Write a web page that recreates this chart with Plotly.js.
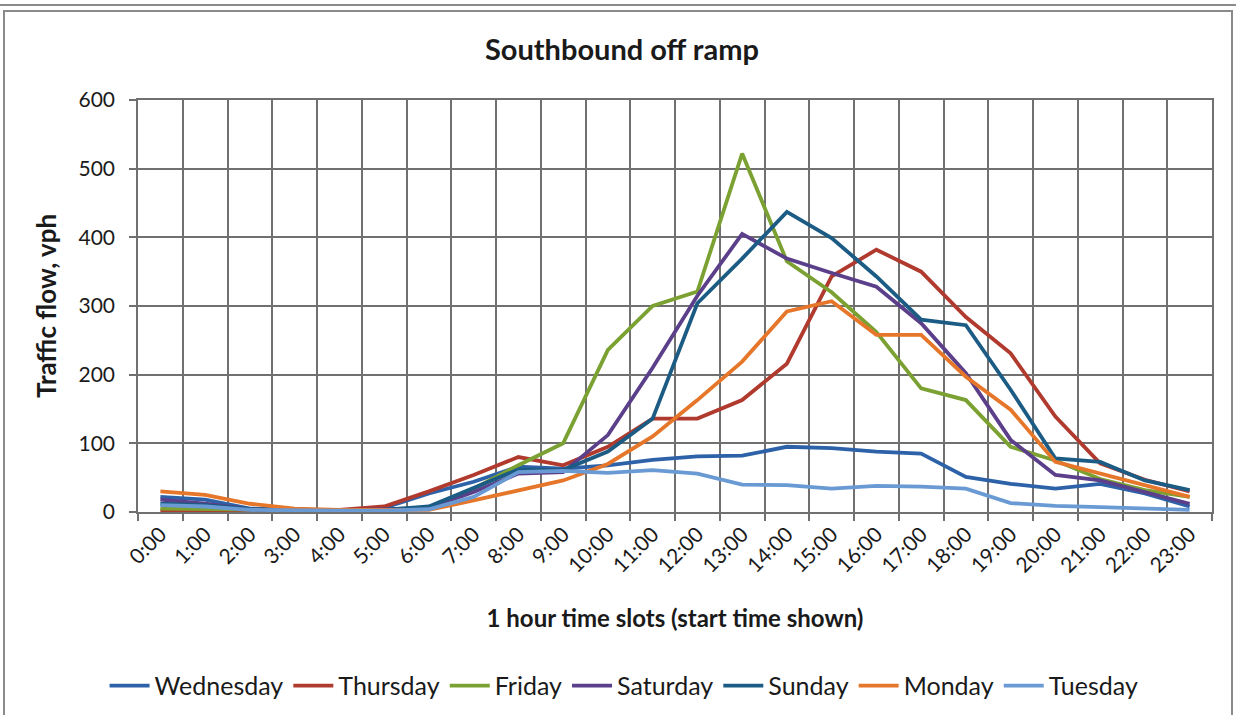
<!DOCTYPE html>
<html>
<head>
<meta charset="utf-8">
<script src="https://cdn.plot.ly/plotly-3.0.1.min.js"></script>
<style>
  html, body { margin: 0; padding: 0; background: #fff; }
  #chart { position: absolute; left: 0; top: 0; width: 1236px; height: 715px; }
  .frame { position: absolute; pointer-events: none; }
</style>
</head>
<body>
<div id="chart"></div>
<div class="frame" style="left:0; top:4px; width:1236px; height:0; border-top:2px solid #8a8a8a;"></div>
<div class="frame" style="left:3px; top:10px; width:1226px; height:720px; border:2px solid #8a8a8a; border-bottom:none;"></div>
<script>
const hours = ["0:00","1:00","2:00","3:00","4:00","5:00","6:00","7:00","8:00","9:00","10:00","11:00",
               "12:00","13:00","14:00","15:00","16:00","17:00","18:00","19:00","20:00","21:00","22:00","23:00"];

const wednesday = [22,18,5,3,2,6,27,44,66,63,68,76,81,82,95,93,88,85,51,41,34,41,27,8];
const thursday  = [2,2,2,2,3,8,30,54,80,68,95,136,136,163,216,343,382,350,284,231,139,71,47,30];
const friday    = [5,4,3,2,2,3,6,34,68,100,236,300,321,522,365,320,262,180,163,95,75,48,32,22];
const saturday  = [18,12,4,2,2,4,6,29,56,58,112,210,315,405,369,348,328,275,202,105,54,46,29,12];
const sunday    = [12,10,4,2,2,3,8,35,62,61,88,136,304,369,437,399,343,280,272,178,78,73,46,32];
const monday    = [30,25,12,5,3,3,3,17,32,46,70,110,163,219,292,307,258,258,197,149,73,56,39,22];
const tuesday   = [10,8,3,2,2,2,4,22,58,60,57,61,56,40,39,34,38,37,34,13,9,7,5,3];

const seriesNames = ["Wednesday","Thursday","Friday","Saturday","Sunday","Monday","Tuesday"];
const seriesValues = [wednesday, thursday, friday, saturday, sunday, monday, tuesday];
const seriesColors = ["#2E62A8","#B03A2E","#7AA131","#5B3F8A","#1C5C84","#E5762A","#6A9AD3"];

const FONT = "Lato, 'Open Sans', 'DejaVu Sans', sans-serif";

const traces = seriesNames.map((name, k) => ({
  type: "scatter",
  mode: "lines",
  name: name,
  x: hours,
  y: seriesValues[k],
  line: { color: seriesColors[k], width: 3.8 }
}));

const layout = {
  width: 1236,
  height: 715,
  margin: { l: 138, r: 24, t: 100, b: 203 },
  paper_bgcolor: "#ffffff",
  plot_bgcolor: "#ffffff",
  font: { family: FONT, color: "#1a1a1a", size: 21 },
  title: {
    text: "<b>Southbound off ramp</b>",
    x: 0.4506, xanchor: "center", xref: "paper",
    y: 52, yref: "container", yanchor: "middle",
    font: { family: FONT, size: 29, color: "#1a1a1a" }
  },
  showlegend: true,
  legend: {
    orientation: "h",
    xref: "container", yref: "container",
    x: 0.5049, xanchor: "center",
    y: 0.0406, yanchor: "middle",
    font: { family: FONT, size: 25, color: "#1a1a1a" },
    itemwidth: 40,
    tracegroupgap: 0
  },
  xaxis: {
    type: "category",
    range: [-0.5, 23.5],
    automargin: false,
    tickson: "boundaries",
    ticks: "outside",
    ticklen: 7,
    tickcolor: "#707070",
    tickwidth: 1.5,
    tickangle: -45,
    tickfont: { family: FONT, size: 21, color: "#1a1a1a" },
    showgrid: true,
    gridcolor: "#707070",
    gridwidth: 1.5,
    showline: true,
    linecolor: "#707070",
    linewidth: 1.5,
    mirror: true,
    title: { text: "<b>1 hour time slots (start time shown)</b>", font: { family: FONT, size: 24, color: "#1a1a1a" }, standoff: 34 }
  },
  yaxis: {
    range: [0, 600],
    dtick: 100,
    automargin: false,
    ticks: "outside",
    ticklen: 7,
    tickcolor: "#707070",
    tickwidth: 1.5,
    tickfont: { family: FONT, size: 21, color: "#1a1a1a" },
    ticklabelstandoff: 10,
    showgrid: true,
    gridcolor: "#707070",
    gridwidth: 1.5,
    zeroline: false,
    showline: true,
    linecolor: "#707070",
    linewidth: 1.5,
    mirror: true,
    title: { text: "<b>Traffic flow, vph</b>", font: { family: FONT, size: 26, color: "#1a1a1a" }, standoff: 14 }
  }
};

Plotly.newPlot("chart", traces, layout, { displayModeBar: false, responsive: false });
</script>
</body>
</html>
